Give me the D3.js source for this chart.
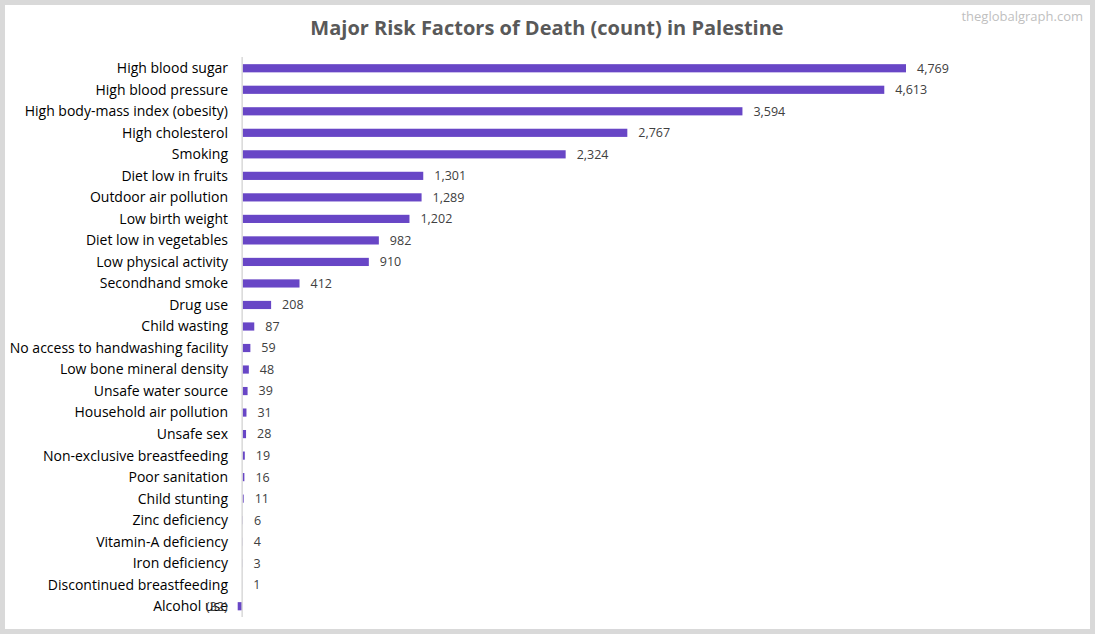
<!DOCTYPE html>
<html><head><meta charset="utf-8">
<script src="https://cdn.jsdelivr.net/npm/d3@7"></script>
<style>
html,body{margin:0;padding:0;background:#d9d9d9;}
svg{display:block;}
</style></head>
<body>
<svg id="chart" width="1095" height="634"></svg>
<script>
const categories = ["High blood sugar","High blood pressure","High body-mass index (obesity)","High cholesterol","Smoking","Diet low in fruits","Outdoor air pollution","Low birth weight","Diet low in vegetables","Low physical activity","Secondhand smoke","Drug use","Child wasting","No access to handwashing facility","Low bone mineral density","Unsafe water source","Household air pollution","Unsafe sex","Non-exclusive breastfeeding","Poor sanitation","Child stunting","Zinc deficiency","Vitamin-A deficiency","Iron deficiency","Discontinued breastfeeding","Alcohol use"];
const values = [4769,4613,3594,2767,2324,1301,1289,1202,982,910,412,208,87,59,48,39,31,28,19,16,11,6,4,3,1,-32];
const titleText = "Major Risk Factors of Death (count) in Palestine";
const watermark = "theglobalgraph.com";

const svg = d3.select("#chart");
const font = "'Open Sans', sans-serif";
svg.append("rect").attr("x",5).attr("y",5).attr("width",1085).attr("height",624).attr("fill","#ffffff");

svg.append("text").attr("x",547).attr("y",35).attr("text-anchor","middle")
  .attr("font-family",font).attr("font-weight","bold").attr("font-size",20)
  .attr("fill","#595959").text(titleText);
svg.append("text").attr("x",1083).attr("y",21).attr("text-anchor","end")
  .attr("font-family",font).attr("font-size",13).attr("fill","#bfbfbf").text(watermark);

const x = d3.scaleLinear().domain([d3.min(values), d3.max(values)]).range([237.7, 906]);
const y = d3.scaleBand().domain(categories).range([57.5, 617]).paddingInner(0.62).paddingOuter(0.31);

const fmt = v => v < 0 ? "(" + d3.format(",")(-v) + ")" : d3.format(",")(v);

svg.append("g").selectAll("rect").data(categories).join("rect")
  .attr("x", (d,i)=>Math.min(x(0), x(values[i])))
  .attr("width", (d,i)=>Math.abs(x(values[i]) - x(0)))
  .attr("y", d=>y(d)).attr("height", y.bandwidth())
  .attr("fill","#6846c6");

// axis line
svg.append("line").attr("x1",x(0)).attr("x2",x(0)).attr("y1",57).attr("y2",617)
  .attr("stroke","#d9d9d9").attr("stroke-width",1.5);

svg.append("g").selectAll("text").data(categories).join("text")
  .attr("x",228).attr("y",d=>y(d)+y.bandwidth()/2).attr("dy","0.35em")
  .attr("text-anchor","end").attr("font-family",font).attr("font-size",14)
  .attr("fill","#000000").text(d=>d);

svg.append("g").selectAll("text").data(categories).join("text")
  .attr("x",(d,i)=> values[i] >= 0 ? x(values[i]) + 11 : x(values[i]) - 10)
  .attr("text-anchor",(d,i)=> values[i] >= 0 ? "start" : "end")
  .attr("y",d=>y(d)+y.bandwidth()/2).attr("dy","0.35em")
  .attr("font-family",font).attr("font-size",12.5)
  .attr("fill","#404040").text((d,i)=>fmt(values[i]));
</script>
</body></html>
